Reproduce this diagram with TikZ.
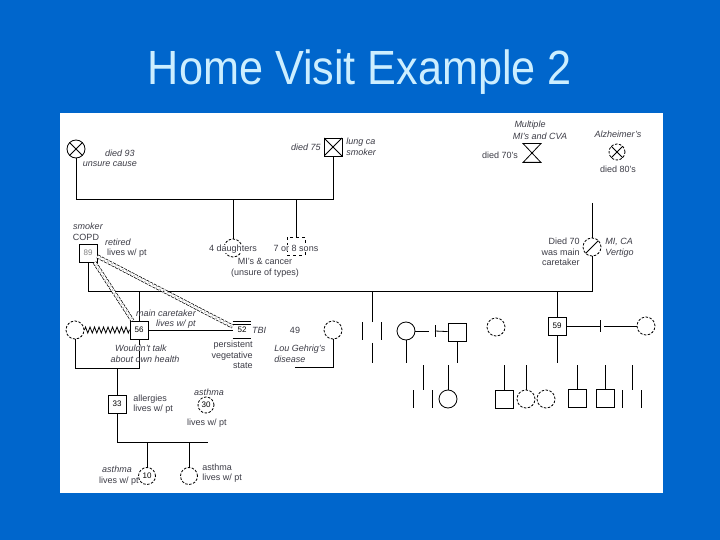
\documentclass[tikz,border=0pt]{standalone}
\usepackage{fontspec}
\setmainfont{Liberation Sans}
\usetikzlibrary{positioning,calc,decorations.pathmorphing}
\definecolor{slideblue}{RGB}{0,102,204}
\definecolor{titlecyan}{RGB}{204,238,255}
\definecolor{notegray}{RGB}{60,60,70}
\tikzset{
  male/.style ={draw, minimum size=18pt, inner sep=0pt, font=\fontsize{8}{9}\selectfont},
  fem/.style  ={draw, circle, minimum size=18pt, inner sep=0pt, dash pattern=on 2.5pt off 1.5pt, font=\fontsize{8}{9}\selectfont},
  sfem/.style ={draw, circle, minimum size=18pt, inner sep=0pt},
  xmark/.style={path picture={\draw[solid] (path picture bounding box.north west) -- (path picture bounding box.south east)
                 (path picture bounding box.south west) -- (path picture bounding box.north east);}},
  slash/.style={path picture={\draw[solid] (path picture bounding box.south west) -- (path picture bounding box.north east);}},
  note/.style ={font=\fontsize{9}{10.5}\selectfont, text=notegray, inner sep=0pt, align=center},
  inote/.style={note, font=\fontsize{9}{10.5}\selectfont\itshape},
  rel/.style  ={double, double distance=2.5pt, dash pattern=on 3pt off 1.2pt, line width=0.7pt},
  bars/.style ={minimum width=18pt, minimum height=17pt, inner sep=0pt, font=\fontsize{8}{9}\selectfont},
}

\begin{document}
\begin{tikzpicture}[x=1pt, y=-1pt, line width=0.8pt]
  \fill[slideblue] (0,0) rectangle (720,540);
  \useasboundingbox (0,0) rectangle (720,540);
  \node[text=titlecyan, font=\fontsize{48}{48}\selectfont, anchor=base] (title) at (360,85) {\scalebox{0.9}[1]{Home Visit Example 2}};
  \fill[white] (60,113) rectangle (663,493);

  % bars
  \coordinate (b1) at (0,199);
  \coordinate (b2) at (0,291);
  \coordinate (b3) at (0,363);
  \coordinate (b4) at (0,365);
  \coordinate (b56) at (0,368);
  \coordinate (b33) at (0,442);

  % grandparents
  \node[sfem, xmark] (gm) at (76,149) {};
  \node[male, xmark] (gf) at (333,147) {};
  \node[minimum width=17pt, minimum height=18pt, inner sep=0pt] (hg) at (532,153) {};
  \draw (hg.north west) -- (hg.north east) -- (hg.south west) -- (hg.south east) -- cycle;
  \node[fem, xmark, minimum size=16pt] (alz) at (617,152) {};

  % parents and their siblings
  \node[male, text=gray] (n89) at (88,253) {89};
  \node[fem] (dau) at (233,248) {};
  \node[male, dashed] (son) at (296,246) {};
  \node[fem, slash] (mom) at (592,247) {};
  \coordinate (mtop) at (592,203);

  % children
  \node[fem] (sp56) at (75,330) {};
  \node[male] (n56) at (139,330) {56};
  \node[bars] (n52) at (242,330) {52};
  \node[note] (t49) at (295,330) {49};
  \node[fem] (sp49) at (333,330) {};
  \node[bars] (sib1) at (372,331) {};
  \node[sfem] (w406) at (406,331) {};
  \node[male] (h457) at (457,332) {};
  \node[fem] (x496) at (496,327) {};
  \node[male] (n59) at (557,326) {59};
  \node[fem] (sp59) at (646,326) {};

  % grandchildren
  \node[male] (n33) at (117,404) {33};
  \node[fem, minimum size=16pt] (n30) at (206,405) {30};
  \node[fem, minimum size=17pt] (n10) at (147,476) {10};
  \node[fem, minimum size=17pt] (n3) at (189,476) {};
  \node[bars] (g1) at (423,399) {};
  \node[sfem] (g2) at (448,399) {};
  \node[male] (g3) at (504,399) {};
  \node[fem] (g4) at (526,399) {};
  \node[fem] (g5) at (546,399) {};
  \node[male] (g6) at (577,398) {};
  \node[male] (g7) at (605,398) {};
  \node[bars] (g8) at (632,399) {};

  \draw (gm) -- (gm |- b1) -| (gf);
  \draw (n89) -- (n89 |- b2) -| (mom);
  \draw (mtop) -- (mom);
  \draw (dau) -- (dau |- b1);
  \draw (son) -- (son |- b1);
  \draw[decorate, decoration={zigzag, segment length=4.5pt, amplitude=3pt}] (sp56) -- (n56);
  \draw (n56) -- (n56 |- b2);
  \draw (sp56) -- (sp56 |- b56) -| (n56);
  \draw (n56) -- (n52);
  \draw[rel] (n89.-55) -- (n56.125);
  \draw[rel] (n89.-20) -- (n52.160);
  \draw (n52.north west) -- (n52.north east);
  \draw ([yshift=-3pt]n52.north west) -- ([yshift=-3pt]n52.north east);
  \draw ([yshift=1pt]n52.south west) -- ([yshift=1pt]n52.south east);
  \coordinate (e49) at (295,367);
  \draw (sp49) -- (sp49 |- e49) -- (e49);
  \draw (sib1.north west) -- (sib1.south west) (sib1.north east) -- (sib1.south east);
  \draw (sib1) -- (sib1 |- b2);
  \coordinate (s1d) at (372,363);
  \draw ([yshift=-3pt]sib1.south) -- (s1d);
  \coordinate (d1) at (429,331);
  \coordinate (d2) at (435,331);
  \draw (w406) -- (d1);
  \draw (d2) -- (h457);
  \draw ([yshift=6pt]d2) -- ([yshift=-6pt]d2);
  \draw (n59) -- (n59 |- b2);
  \coordinate (d3) at (600,326);
  \coordinate (d4) at (604,326);
  \draw (n59) -- (d3);
  \draw ([yshift=6pt]d3) -- ([yshift=-6pt]d3);
  \draw (d4) -- (sp59);
  \draw (w406) -- (w406 |- b3);
  \draw (h457) -- (h457 |- b3);
  \draw (n59) -- (n59 |- b3);
  \draw (g1.north west) -- (g1.south west) (g1.north east) -- (g1.south east);
  \draw (g8.north west) -- (g8.south west) (g8.north east) -- (g8.south east);
  \foreach \k in {g1,g2,g3,g4,g6,g7,g8}
    \draw (\k |- b4) -- (\k);
  \draw (n33) -- (n33 |- b56);
  \coordinate (e33) at (208,442);
  \draw (n33) -- (n33 |- b33) -- (e33);
  \draw (n10) -- (n10 |- b33);
  \draw (n3) -- (n3 |- b33);

  % notes
  \node[inote] (l1) at (120,153) {died 93};
  \node[inote] (l2) at (110,164) {unsure cause};
  \node[inote] (l3) at (306,147) {died 75};
  \node[inote, anchor=west, align=left] (l4) at (346,147) {lung ca\\smoker};
  \node[inote] (l5) at (530,125) {Multiple};
  \node[inote] (l6) at (540,136) {MI's and CVA};
  \node[note] (l7) at (500,155) {died 70's};
  \node[inote] (l8) at (618,134) {Alzheimer's};
  \node[note] (l9) at (618,169) {died 80's};
  \node[inote] (l10) at (88,226) {smoker};
  \node[note] (l11) at (86,237) {COPD};
  \node[inote] (l12) at (118,242) {retired};
  \node[note] (l13) at (127,253) {lives w/ pt};
  \node[note, fill=white] (l14) at (233,249) {4 daughters};
  \node[note, fill=white] (l15) at (296,248) {7 or 8 sons};
  \node[note] (l16) at (265,268) {MI's \& cancer\\(unsure of types)};
  \node[note, anchor=east, align=right] (l17) at (580,252) {Died 70\\was main\\caretaker};
  \node[inote, anchor=west, align=left] (l18) at (605,248) {MI, CA\\Vertigo};
  \node[inote] (l19) at (166,313) {main caretaker};
  \node[inote] (l20) at (176,324) {lives w/ pt};
  \node[inote] (l21) at (259,330) {TBI};
  \node[note, anchor=north east, align=right] (l22) at (253,341) {persistent\\vegetative\\state};
  \node[inote, fill=white] (l23) at (141,348) {Wouldn't talk};
  \node[inote] (l24) at (145,359) {about own health};
  \node[inote, anchor=west, align=left] (l25) at (274,354) {Lou Gehrig's\\disease};
  \node[note, anchor=west, align=left] (l26) at (133,404) {allergies\\lives w/ pt};
  \node[inote] (l27) at (209,392) {asthma};
  \node[note] (l28) at (207,423) {lives w/ pt};
  \node[inote] (l29) at (117,469) {asthma};
  \node[note] (l30) at (119,481) {lives w/ pt};
  \node[note, anchor=west, align=left] (l31) at (202,473) {asthma\\lives w/ pt};
\end{tikzpicture}
\end{document}
